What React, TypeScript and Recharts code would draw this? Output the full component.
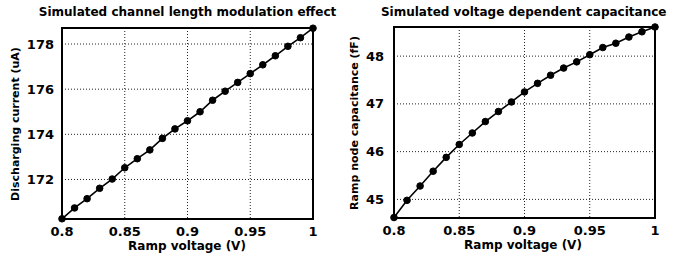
import React from "react";
import { LineChart, Line, XAxis, YAxis, CartesianGrid, ReferenceArea } from "recharts";

const rampVoltage = [0.8, 0.81, 0.82, 0.83, 0.84, 0.85, 0.86, 0.87, 0.88, 0.89, 0.9, 0.91, 0.92, 0.93, 0.94, 0.95, 0.96, 0.97, 0.98, 0.99, 1.0];
const dischargingCurrent = [170.26, 170.74, 171.15, 171.61, 172.02, 172.52, 172.92, 173.31, 173.82, 174.24, 174.6, 175.0, 175.51, 175.91, 176.3, 176.69, 177.08, 177.48, 177.9, 178.28, 178.7];
const rampCapacitance = [44.62, 44.98, 45.28, 45.59, 45.88, 46.15, 46.39, 46.63, 46.84, 47.04, 47.25, 47.43, 47.6, 47.75, 47.88, 48.03, 48.18, 48.27, 48.4, 48.51, 48.61];
const xTicks = [0.8, 0.85, 0.9, 0.95, 1];
const currentTicks = [172, 174, 176, 178];
const capTicks = [45, 46, 47, 48];

const leftTitle = "Simulated channel length modulation effect";
const rightTitle = "Simulated voltage dependent capacitance";
const xLabel = "Ramp voltage (V)";
const leftYLabel = "Discharging current (uA)";
const rightYLabel = "Ramp node capacitance (fF)";

const currentData = rampVoltage.map((v, i) => ({ v, y: dischargingCurrent[i] }));
const capData = rampVoltage.map((v, i) => ({ v, y: rampCapacitance[i] }));

const FONT = '"DejaVu Sans", "Liberation Sans", Arial, sans-serif';
const tickStyle = { fontFamily: FONT, fontSize: 13, fontWeight: 700, fill: "#000" };

function textDiv(text: string, cx: number, cy: number, size: number, rotate = false) {
  return (
    <div
      style={{
        position: "absolute",
        left: cx,
        top: cy,
        transform: `translate(-50%, -50%)${rotate ? " rotate(-90deg)" : ""}`,
        whiteSpace: "nowrap",
        fontFamily: FONT,
        fontWeight: 700,
        fontSize: size,
        lineHeight: `${size}px`,
        color: "#000",
      }}
    >
      {text}
    </div>
  );
}

function Panel(props: {
  data: { v: number; y: number }[];
  domain: [number, number];
  ticks: number[];
  width: number;
  margin: { top: number; right: number; bottom: number; left: number };
  yWidth: number;
  yTickMargin: number;
}) {
  const { data, domain, ticks, width, margin, yWidth, yTickMargin } = props;
  return (
    <LineChart width={width} height={259} data={data} margin={margin}>
      <CartesianGrid stroke="#222" strokeDasharray="1 2" strokeWidth={1} />
      <XAxis
        dataKey="v"
        type="number"
        domain={[0.8, 1]}
        ticks={xTicks}
        tickFormatter={(t: number) => String(t)}
        tick={tickStyle}
        tickLine={false}
        tickSize={0}
        tickMargin={8}
        axisLine={false}
        height={30}
        interval={0}
      />
      <YAxis
        type="number"
        domain={domain}
        ticks={ticks}
        tick={tickStyle}
        tickLine={false}
        tickSize={0}
        tickMargin={yTickMargin}
        axisLine={false}
        width={yWidth}
        interval={0}
      />
      <ReferenceArea
        x1={0.8}
        x2={1}
        y1={domain[0]}
        y2={domain[1]}
        fill="none"
        fillOpacity={0}
        stroke="#000"
        strokeWidth={2}
        ifOverflow="visible"
      />
      <Line
        type="linear"
        dataKey="y"
        stroke="#000"
        strokeWidth={1.6}
        dot={{ r: 3.3, fill: "#000", stroke: "#000", strokeWidth: 1 }}
        isAnimationActive={false}
      />
    </LineChart>
  );
}

export default function App() {
  return (
    <div style={{ position: "fixed", left: 0, top: 0, width: 697, height: 259, background: "#fff", overflow: "hidden" }}>
      <div style={{ position: "absolute", left: 0, top: 0 }}>
        <Panel
          data={currentData}
          domain={[170.25, 178.71]}
          ticks={currentTicks}
          width={348}
          margin={{ top: 28, right: 35, bottom: 10, left: 12 }}
          yWidth={50}
          yTickMargin={8}
        />
      </div>
      <div style={{ position: "absolute", left: 348, top: 0 }}>
        <Panel
          data={capData}
          domain={[44.61, 48.61]}
          ticks={capTicks}
          width={349}
          margin={{ top: 27, right: 42, bottom: 11, left: 6 }}
          yWidth={40}
          yTickMargin={10}
        />
      </div>
      {textDiv(leftTitle, 187.5, 12, 12)}
      {textDiv(rightTitle, 523.7, 12, 12)}
      {textDiv(xLabel, 187, 246, 12)}
      {textDiv(xLabel, 523, 245, 12)}
      {textDiv(leftYLabel, 15, 123.5, 11, true)}
      {textDiv(rightYLabel, 354, 122.5, 11, true)}
    </div>
  );
}
